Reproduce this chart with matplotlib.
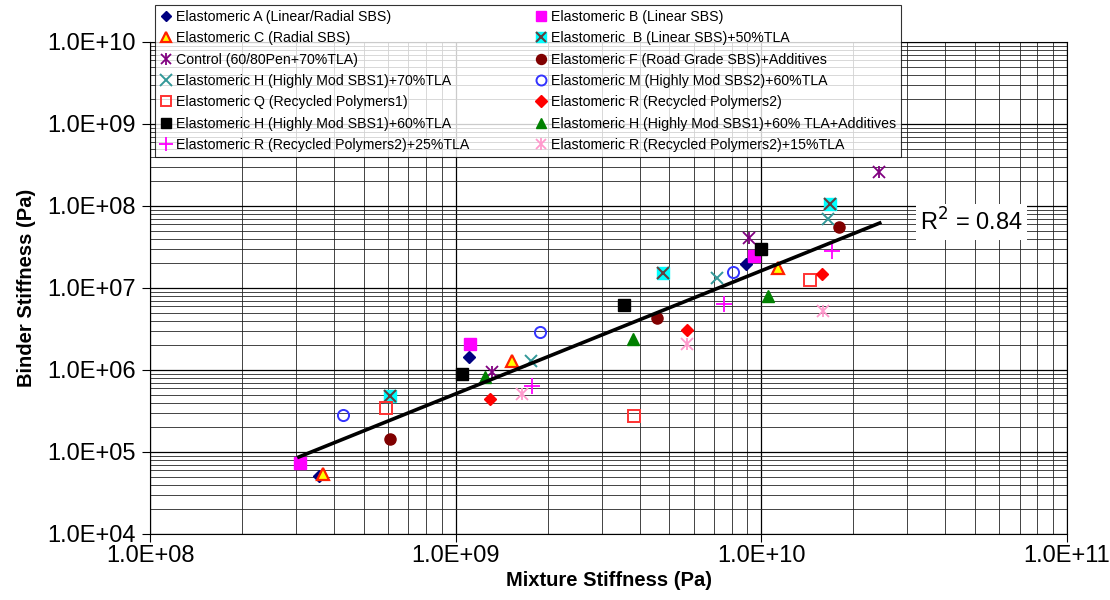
import matplotlib.pyplot as plt
from matplotlib.ticker import LogLocator, FuncFormatter, NullFormatter
from matplotlib.legend_handler import HandlerTuple

plt.rcParams['font.family'] = ['Liberation Sans', 'DejaVu Sans']

# mixture stiffness (Pa) -> binder stiffness (Pa)
elast_a_x = [3.57e8, 1.105e9, 8.9e9]
elast_a_y = [5.1e4, 1.44e6, 1.96e7]
elast_b_x = [3.09e8, 1.11e9, 9.46e9]
elast_b_y = [7.3e4, 2.07e6, 2.45e7]
elast_c_x = [3.68e8, 1.53e9, 1.13e10]
elast_c_y = [5.4e4, 1.29e6, 1.75e7]
elast_b50_x = [6.1e8, 4.77e9, 1.68e10]
elast_b50_y = [4.8e5, 1.52e7, 1.06e8]
control_x = [1.31e9, 9.1e9, 2.43e10]
control_y = [9.5e5, 4.07e7, 2.6e8]
elast_f_x = [6.1e8, 4.56e9, 1.79e10]
elast_f_y = [1.44e5, 4.3e6, 5.5e7]
elast_h70_x = [1.76e9, 7.16e9, 1.65e10]
elast_h70_y = [1.29e6, 1.32e7, 6.9e7]
elast_m_x = [4.28e8, 1.89e9, 8.07e9]
elast_m_y = [2.8e5, 2.9e6, 1.57e7]
elast_q_x = [5.92e8, 3.83e9, 1.44e10]
elast_q_y = [3.44e5, 2.75e5, 1.25e7]
elast_r_x = [1.30e9, 5.71e9, 1.58e10]
elast_r_y = [4.43e5, 3.07e6, 1.48e7]
elast_h60_x = [1.05e9, 3.55e9, 1.0e10]
elast_h60_y = [8.9e5, 6.2e6, 2.99e7]
elast_h60add_x = [1.25e9, 3.8e9, 1.05e10]
elast_h60add_y = [8.2e5, 2.39e6, 7.98e6]
elast_r25_x = [1.78e9, 7.55e9, 1.70e10]
elast_r25_y = [6.4e5, 6.4e6, 2.83e7]
elast_r15_x = [1.65e9, 5.71e9, 1.59e10]
elast_r15_y = [5.1e5, 2.07e6, 5.2e6]

trend_x = [3.07e8, 2.44e10]
trend_y = [8.7e4, 6.2e7]
r_squared = 0.84

fig = plt.figure(figsize=(11.1, 6), dpi=100)
ax = fig.add_axes([150/1110, 1-534/600, 917/1110, 492/600])
ax.set_xscale('log')
ax.set_yscale('log')


def pts(x, y, **kw):
    line, = ax.plot(x, y, linestyle='none', zorder=3, **kw)
    return line


def star(x, y, color):
    a = pts(x, y, marker='x', color=color, ms=8, mew=1.3)
    b = pts(x, y, marker='|', color=color, ms=9, mew=1.3)
    return (a, b)


h_a = pts(elast_a_x, elast_a_y, marker='D', color='#000080', ms=6)
h_b = pts(elast_b_x, elast_b_y, marker='s', color='#FF00FF', ms=8)
h_c = pts(elast_c_x, elast_c_y, marker='^', mfc='#FFFF00', mec='#FF2000', mew=1.6, ms=8)
h_b50 = (pts(elast_b50_x, elast_b50_y, marker='s', color='#00FFFF', ms=8),
         pts(elast_b50_x, elast_b50_y, marker='x', color='#604040', ms=8, mew=1.5))
h_ctrl = star(control_x, control_y, '#800080')
h_f = pts(elast_f_x, elast_f_y, marker='o', color='#800000', ms=8)
h_h70 = pts(elast_h70_x, elast_h70_y, marker='x', color='#339999', ms=9, mew=1.4)
h_m = pts(elast_m_x, elast_m_y, marker='o', mfc='none', mec='#3333FF', mew=1.4, ms=8)
h_q = pts(elast_q_x, elast_q_y, marker='s', mfc='none', mec='#FF3333', mew=1.4, ms=8)
h_r = pts(elast_r_x, elast_r_y, marker='D', color='#FF0000', ms=6.5)
h_h60 = pts(elast_h60_x, elast_h60_y, marker='s', color='#000000', ms=8)
h_h60add = pts(elast_h60add_x, elast_h60add_y, marker='^', color='#008000', ms=8)
h_r25 = pts(elast_r25_x, elast_r25_y, marker='+', color='#FF00FF', ms=11, mew=1.3)
h_r15 = star(elast_r15_x, elast_r15_y, '#FF99CC')

ax.plot(trend_x, trend_y, color='black', lw=2.6, zorder=4)

ax.set_xlim(1e8, 1e11)
ax.set_ylim(1e4, 1e10)

fmt = FuncFormatter(lambda v, p: f"{v:.1E}")
ax.xaxis.set_major_locator(LogLocator(base=10, numticks=10))
ax.yaxis.set_major_locator(LogLocator(base=10, numticks=10))
ax.xaxis.set_minor_locator(LogLocator(base=10, subs=range(2, 10), numticks=20))
ax.yaxis.set_minor_locator(LogLocator(base=10, subs=range(2, 10), numticks=20))
ax.xaxis.set_major_formatter(fmt)
ax.yaxis.set_major_formatter(fmt)
ax.xaxis.set_minor_formatter(NullFormatter())
ax.yaxis.set_minor_formatter(NullFormatter())
ax.tick_params(which='major', length=6, width=0.8, labelsize=17, pad=4, colors='black')
ax.tick_params(which='minor', length=0)
ax.tick_params(axis='x', pad=2)

ax.grid(which='major', color='black', lw=0.9)
ax.grid(which='minor', color='#222222', lw=0.7, alpha=0.85)
ax.set_axisbelow(True)
for s in ax.spines.values():
    s.set_color('black')
    s.set_linewidth(0.8)

ax.set_xlabel('Mixture Stiffness (Pa)', fontsize=14.5, fontweight='bold', labelpad=3)
ax.set_ylabel('Binder Stiffness (Pa)', fontsize=14.5, fontweight='bold', labelpad=8)

ax.text(0.896, 0.634, f'R$^2$ = {r_squared:.2f}',
        transform=ax.transAxes, fontsize=17, ha='center', va='center', zorder=5,
        bbox=dict(facecolor='white', edgecolor='none', pad=3))

handles = [h_a, h_c, h_ctrl, h_h70, h_q, h_h60, h_r25,
           h_b, h_b50, h_f, h_m, h_r, h_h60add, h_r15]
labels = ['Elastomeric A (Linear/Radial SBS)',
          'Elastomeric C (Radial SBS)',
          'Control (60/80Pen+70%TLA)',
          'Elastomeric H (Highly Mod SBS1)+70%TLA',
          'Elastomeric Q (Recycled Polymers1)',
          'Elastomeric H (Highly Mod SBS1)+60%TLA',
          'Elastomeric R (Recycled Polymers2)+25%TLA',
          'Elastomeric B (Linear SBS)',
          'Elastomeric  B (Linear SBS)+50%TLA',
          'Elastomeric F (Road Grade SBS)+Additives',
          'Elastomeric M (Highly Mod SBS2)+60%TLA',
          'Elastomeric R (Recycled Polymers2)',
          'Elastomeric H (Highly Mod SBS1)+60% TLA+Additives',
          'Elastomeric R (Recycled Polymers2)+15%TLA']
leg = fig.legend(handles, labels, ncol=2, loc='upper left',
                 bbox_to_anchor=(155/1110, 1-5/600), borderaxespad=0,
                 fontsize=10.2,
                 handler_map={tuple: HandlerTuple(ndivide=1)},
                 frameon=True, fancybox=False, edgecolor='black',
                 handlelength=0.8, handletextpad=0.3, columnspacing=4.7,
                 labelspacing=0.52, borderpad=0.35, markerscale=0.9)
leg.get_frame().set_linewidth(0.8)
leg.set_zorder(10)

plt.savefig('out.png', dpi=100)
